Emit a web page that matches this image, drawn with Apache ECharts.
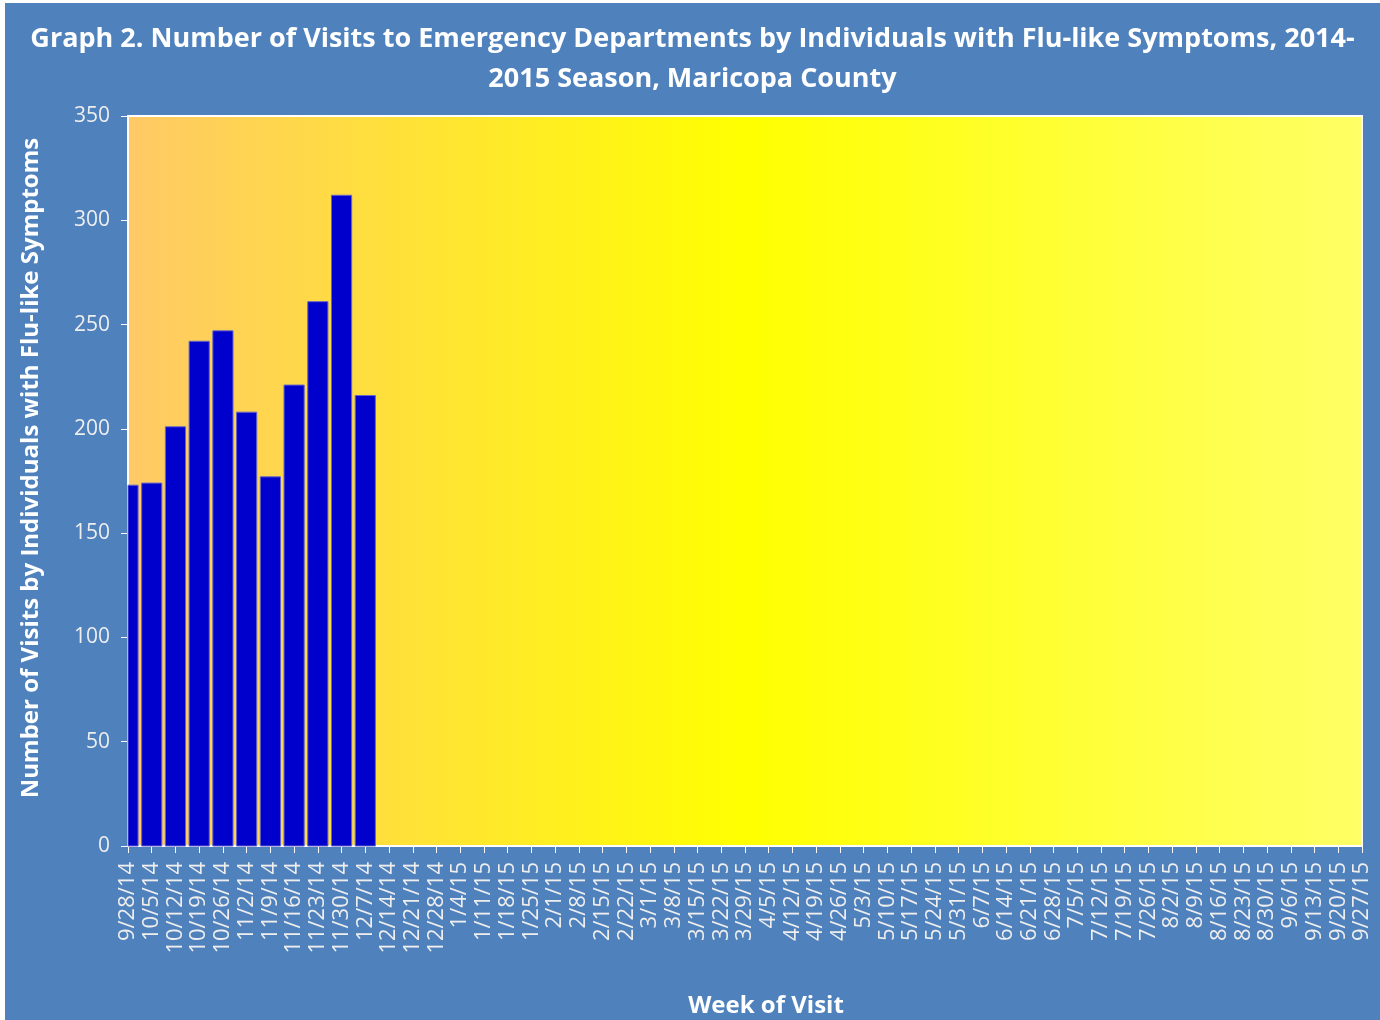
<!DOCTYPE html>
<html>
<head>
<meta charset="utf-8">
<script src="https://cdn.jsdelivr.net/npm/echarts@6/dist/echarts.min.js"></script>
<style>
html,body{margin:0;padding:0;background:#ffffff;}
#c{position:absolute;left:5px;top:3px;width:1375px;height:1017px;}
</style>
</head>
<body>
<div id="c"></div>
<script>
var weeks = ["9/28/14","10/5/14","10/12/14","10/19/14","10/26/14","11/2/14","11/9/14","11/16/14","11/23/14","11/30/14","12/7/14","12/14/14","12/21/14","12/28/14","1/4/15","1/11/15","1/18/15","1/25/15","2/1/15","2/8/15","2/15/15","2/22/15","3/1/15","3/8/15","3/15/15","3/22/15","3/29/15","4/5/15","4/12/15","4/19/15","4/26/15","5/3/15","5/10/15","5/17/15","5/24/15","5/31/15","6/7/15","6/14/15","6/21/15","6/28/15","7/5/15","7/12/15","7/19/15","7/26/15","8/2/15","8/9/15","8/16/15","8/23/15","8/30/15","9/6/15","9/13/15","9/20/15","9/27/15"];
var visits = [173,174,201,242,247,208,177,221,261,312,216];
var yTicks = {min:0, max:350, interval:50};
var titleText = "Graph 2. Number of Visits to Emergency Departments by Individuals with Flu-like Symptoms, 2014-\n2015 Season, Maricopa County";
var yName = "Number of Visits by Individuals with Flu-like Symptoms";
var xName = "Week of Visit";

var chart = echarts.init(document.getElementById('c'), null, {renderer:'canvas'});
var font = "'Open Sans', 'Noto Sans', sans-serif";
var barData = visits.map(function (v, i) { return [i, v]; });

chart.setOption({
  backgroundColor: '#4F81BD',
  animation: false,
  title: {
    text: titleText,
    left: 'center',
    top: 11,
    textStyle: {color:'#ffffff', fontFamily: font, fontWeight:'bold', fontSize:27, lineHeight:40}
  },
  grid: {
    left: 123, right: 18, top: 113, bottom: 174,
    containLabel: false,
    outerBoundsMode: 'none',
    show: true,
    borderColor: '#ffffff',
    borderWidth: 2,
    backgroundColor: new echarts.graphic.LinearGradient(0,0,1,0,[
      {offset:0, color:'#FFC966'},
      {offset:0.5, color:'#FFFF00'},
      {offset:1, color:'#FFFF66'}
    ])
  },
  xAxis: {
    type: 'category',
    data: weeks,
    boundaryGap: false,
    name: xName,
    nameLocation: 'middle',
    nameGap: 148,
    nameTextStyle: {color:'#ffffff', fontFamily: font, fontWeight:'bold', fontSize:24, padding:[0,0,0,42]},
    axisLine: {lineStyle:{color:'#ffffff', width:2}},
    axisTick: {show:true, alignWithLabel:true, length:7, lineStyle:{color:'#ffffff'}},
    axisLabel: {interval:0, rotate:90, color:'#eeeeee', fontFamily: font, fontSize:22, margin:16},
    splitLine: {show:false}
  },
  yAxis: {
    type: 'value',
    min: yTicks.min, max: yTicks.max, interval: yTicks.interval,
    name: yName,
    nameLocation: 'middle',
    nameGap: 85,
    nameTextStyle: {color:'#ffffff', fontFamily: font, fontWeight:'bold', fontSize:24, padding:[0,0,0,26]},
    axisLine: {show:true, lineStyle:{color:'#ffffff', width:2}},
    axisTick: {show:true, length:7, lineStyle:{color:'#ffffff'}},
    axisLabel: {color:'#eeeeee', fontFamily: font, fontSize:21, margin:18},
    splitLine: {show:false}
  },
  series: [{
    type: 'custom',
    data: barData,
    encode: {x: 0, y: 1},
    renderItem: function (params, api) {
      var idx = api.value(0);
      var top = api.coord([idx, api.value(1)]);
      var base = api.coord([idx, 0]);
      var w = api.size([1, 0])[0] * 0.85;
      var rect = echarts.graphic.clipRectByRect({
        x: top[0] - w / 2, y: top[1], width: w, height: base[1] - top[1]
      }, {
        x: params.coordSys.x, y: params.coordSys.y,
        width: params.coordSys.width, height: params.coordSys.height
      });
      if (!rect) return;
      return {
        type: 'rect',
        shape: rect,
        style: {fill:'#0000CC', stroke:'#6666CC', lineWidth:1}
      };
    }
  }]
});
</script>
</body>
</html>
